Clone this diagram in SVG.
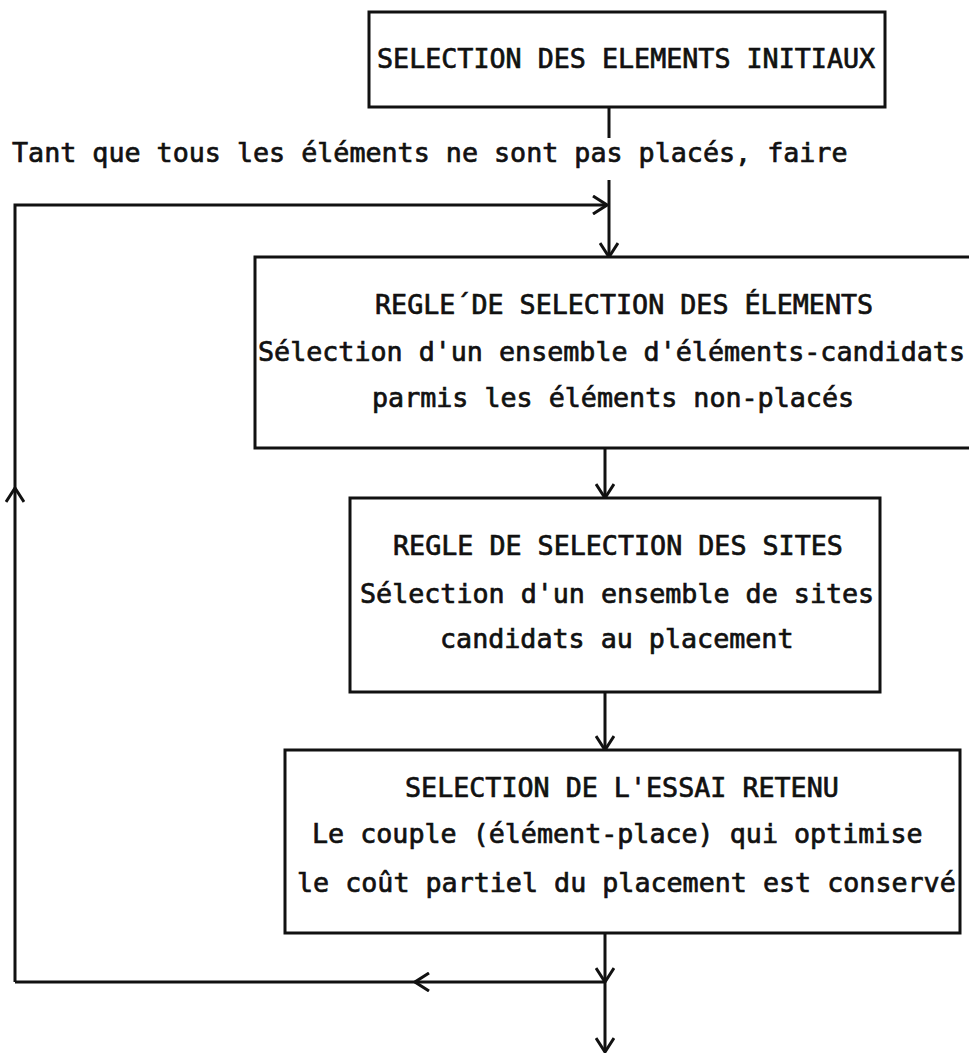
<svg xmlns="http://www.w3.org/2000/svg" width="969" height="1058" viewBox="0 0 969 1058">
<style>
.box{fill:none;stroke:#111;stroke-width:3}
.con{fill:none;stroke:#111;stroke-width:3}
text{font-family:"DejaVu Sans Mono","Liberation Mono",monospace;font-size:26.7px;fill:#111;stroke:#111;stroke-width:0.7}
</style>
<defs>
<marker id="arr" viewBox="0 0 16 20" refX="15" refY="10" markerWidth="16" markerHeight="20" markerUnits="userSpaceOnUse" orient="auto">
<path d="M1,1 L15,10 L1,19" fill="none" stroke="#111" stroke-width="3"/>
</marker>
</defs>
<rect width="969" height="1058" fill="#fff"/>
<g id="n-initiaux">
<rect class="box" x="369" y="12" width="516" height="95"/>
<text x="377" y="68">SELECTION DES ELEMENTS INITIAUX</text>
</g>
<g id="loop-label">
<text x="12" y="162">Tant que tous les éléments ne sont pas placés, faire</text>
</g>
<g id="n-regle-elements">
<path class="box" d="M970,257 H255 V448 H970"/>
<text x="375" y="314">REGLE´DE SELECTION DES ÉLEMENTS</text>
<text x="258" y="361">Sélection d'un ensemble d'éléments-candidats</text>
<text x="372" y="407">parmis les éléments non-placés</text>
</g>
<g id="n-regle-sites">
<rect class="box" x="350" y="498" width="530" height="194"/>
<text x="393" y="555">REGLE DE SELECTION DES SITES</text>
<text x="360" y="603">Sélection d'un ensemble de sites</text>
<text x="440" y="648">candidats au placement</text>
</g>
<g id="n-essai">
<rect class="box" x="285" y="750" width="675" height="183"/>
<text x="405" y="797">SELECTION DE L'ESSAI RETENU</text>
<text x="312" y="843">Le couple (élément-place) qui optimise</text>
<text x="297" y="892">le coût partiel du placement est conservé</text>
</g>
<g id="connectors">
<path class="con" d="M609,107 V138"/>
<path class="con" d="M609,180 V257" marker-end="url(#arr)"/>
<path class="con" d="M15,488 V205 H607" marker-end="url(#arr)"/>
<path class="con" d="M15,982 V488" marker-end="url(#arr)"/>
<path class="con" d="M605,448 V498" marker-end="url(#arr)"/>
<path class="con" d="M605,692 V750" marker-end="url(#arr)"/>
<path class="con" d="M605,933 V982" marker-end="url(#arr)"/>
<path class="con" d="M605,982 V1052" marker-end="url(#arr)"/>
<path class="con" d="M605,982 H415" marker-end="url(#arr)"/>
<path class="con" d="M415,982 H15"/>
</g>
</svg>
